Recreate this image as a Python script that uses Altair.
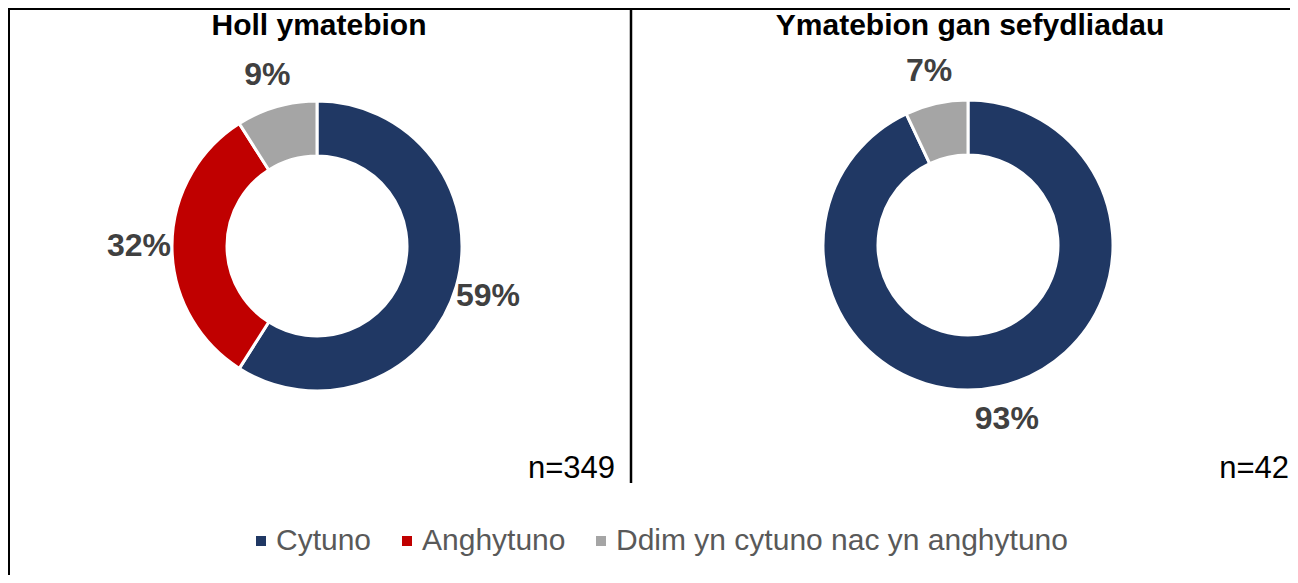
import altair as alt
import pandas as pd

# ---- data ----
panels = ["Holl ymatebion", "Ymatebion gan sefydliadau"]
categories = ["Cytuno", "Anghytuno", "Ddim yn cytuno nac yn anghytuno"]
all_values = [59, 32, 9]
org_values = [93, 0, 7]
n_labels = ["n=349", "n=42"]
colors = ["#203864", "#C00000", "#A5A5A5"]

rows = []
for p, vals in zip(panels, [all_values, org_values]):
    for i, (c, v) in enumerate(zip(categories, vals)):
        if v > 0:
            rows.append({"panel": p, "cat": c, "idx": i, "val": v, "label": f"{v}%"})
df = pd.DataFrame(rows)

W, H = 1282, 567
FONT = "Liberation Sans"
centers = {panels[0]: (309, 238), panels[1]: (960, 237)}

color = alt.Color(
    "cat:N",
    scale=alt.Scale(domain=categories, range=colors),
    legend=alt.Legend(
        orient="none", legendX=238, legendY=518, direction="horizontal",
        title=None, symbolType="square", symbolSize=100, symbolStrokeWidth=0,
        labelFontSize=30, labelFont=FONT, labelColor="#595959",
        labelOffset=0, columnPadding=20, labelLimit=700,
    ),
)

layers = []
for p in panels:
    cx, cy = centers[p]
    base = alt.Chart(df).transform_filter(alt.datum.panel == p)
    arc = base.mark_arc(outerRadius=145, innerRadius=90, stroke="white", strokeWidth=3).encode(
        theta=alt.Theta("val:Q", stack=True),
        color=color,
        order=alt.Order("idx:Q"),
        x=alt.value(cx), y=alt.value(cy),
    )
    txt = base.mark_text(radius=178, font=FONT, fontSize=32, fontWeight="bold",
                         color="#404040", baseline="middle", align="center").encode(
        theta=alt.Theta("val:Q", stack=True),
        detail="cat:N",
        order=alt.Order("idx:Q"),
        text="label:N",
        x=alt.value(cx), y=alt.value(cy),
    )
    layers += [arc, txt]

one = pd.DataFrame({"a": [0]})
title_pos = [(311, 27), (962, 27)]
for t, (tx, ty) in zip(panels, title_pos):
    layers.append(
        alt.Chart(one).mark_text(text=t, font=FONT, fontSize=30, fontWeight="bold",
                                 color="black", align="center", baseline="alphabetic")
        .encode(x=alt.value(tx), y=alt.value(ty))
    )
n_pos = [(607, 470), (1281, 470)]
for t, (tx, ty) in zip(n_labels, n_pos):
    layers.append(
        alt.Chart(one).mark_text(text=t, font=FONT, fontSize=31, color="black",
                                 align="right", baseline="alphabetic")
        .encode(x=alt.value(tx), y=alt.value(ty))
    )

# frame lines
layers.append(alt.Chart(one).mark_rule(color="black", strokeWidth=3).encode(
    x=alt.value(0), x2=alt.value(W), y=alt.value(0.5)))
layers.append(alt.Chart(one).mark_rule(color="black", strokeWidth=3).encode(
    x=alt.value(0.5), y=alt.value(0), y2=alt.value(H)))
layers.append(alt.Chart(one).mark_rule(color="black", strokeWidth=2.5).encode(
    x=alt.value(623), y=alt.value(0), y2=alt.value(475)))

chart = alt.layer(*layers).properties(
    width=W, height=H, padding=0,
    autosize=alt.AutoSizeParams(type="none"),
    background="white",
).configure_view(stroke=None)

chart.save("out.html", embed_options={"renderer": "svg", "actions": False})
